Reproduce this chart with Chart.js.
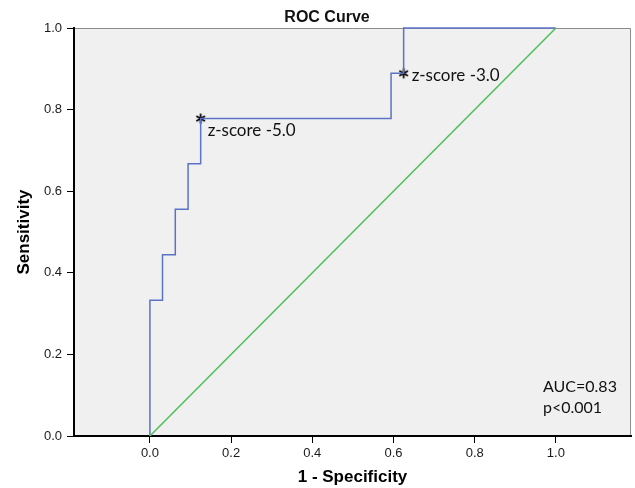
<!DOCTYPE html>
<html>
<head>
<meta charset="utf-8">
<script src="https://cdn.jsdelivr.net/npm/chart.js@4/dist/chart.umd.min.js"></script>
<style>
  html, body { margin: 0; padding: 0; background: #fff; }
</style>
</head>
<body>
<canvas id="rocChart" width="635" height="488"></canvas>
<script>
// ROC curve corners (1 - specificity, sensitivity)
const fpr = [0, 0, 0.031, 0.0625, 0.094, 0.125, 0.594, 0.625, 1.0];
const tpr = [0, 0.333, 0.444, 0.556, 0.667, 0.778, 0.889, 1.0, 1.0];
// reference line
const refX = [0, 1];
const refY = [0, 1];
// marked cut-offs
const cutX = [0.125, 0.625];
const cutY = [0.778, 0.889];
const cutLabels = ['z-score -5.0', 'z-score -3.0'];
// axes
const xTicks = [0, 0.2, 0.4, 0.6, 0.8, 1.0];
const yTicks = [0, 0.2, 0.4, 0.6, 0.8, 1.0];
const statLines = ['AUC=0.83', 'p<0.001'];
const chartTitle = 'ROC Curve';

// label offsets from the asterisk (px)
const labelOffsets = [[7, 17], [8, 8]];

function makeAsterisk() {
    const c = document.createElement('canvas');
    c.width = 13; c.height = 13;
    const g = c.getContext('2d');
    g.strokeStyle = '#000';
    g.lineWidth = 1.8;
    for (let k = 0; k < 3; k++) {
        const a = Math.PI / 2 + k * Math.PI / 3;
        g.beginPath();
        g.moveTo(6.5 - 5 * Math.cos(a), 6.5 - 5 * Math.sin(a));
        g.lineTo(6.5 + 5 * Math.cos(a), 6.5 + 5 * Math.sin(a));
        g.stroke();
    }
    return c;
}

const decor = {
    id: 'decor',
    beforeDraw(chart) {
        const { ctx, chartArea: a } = chart;
        ctx.save();
        ctx.fillStyle = '#fff';
        ctx.fillRect(0, 0, chart.width, chart.height);
        ctx.fillStyle = '#f0f0f0';
        ctx.fillRect(a.left, a.top, a.right - a.left, a.bottom - a.top);
        ctx.strokeStyle = '#8c8c8c';
        ctx.lineWidth = 1;
        ctx.beginPath();
        ctx.moveTo(a.left, a.top + 0.5);
        ctx.lineTo(a.right - 0.5, a.top + 0.5);
        ctx.lineTo(a.right - 0.5, a.bottom);
        ctx.stroke();
        ctx.restore();
    },
    afterDraw(chart) {
        const { ctx, chartArea: a } = chart;
        ctx.save();
        // title
        ctx.fillStyle = '#111';
        ctx.font = 'bold 16px "Liberation Sans", Arial, sans-serif';
        ctx.textAlign = 'center';
        ctx.textBaseline = 'alphabetic';
        ctx.fillText(chartTitle, 327, 22);
        // cut-off labels
        ctx.textAlign = 'left';
        ctx.font = '17px Lato, "Open Sans", sans-serif';
        chart.getDatasetMeta(2).data.forEach((pt, i) => {
            ctx.fillText(cutLabels[i], pt.x + labelOffsets[i][0], pt.y + labelOffsets[i][1]);
        });
        // AUC box text
        ctx.font = '16px Lato, "Open Sans", sans-serif';
        statLines.forEach((s, i) => {
            ctx.fillText(s, a.right - 88, a.bottom - 44 + i * 21);
        });
        ctx.restore();
    }
};

const tickFont = { family: '"Liberation Sans", Arial, sans-serif', size: 13 };
const axisTitleFont = { family: '"Liberation Sans", Arial, sans-serif', size: 17, weight: 'bold' };

const rocChart = new Chart(document.getElementById('rocChart').getContext('2d'), {
    type: 'scatter',
    data: {
        datasets: [{
            label: 'Reference',
            data: refX.map((x, i) => ({ x: x, y: refY[i] })),
            showLine: true,
            borderColor: '#4fbf5a',
            borderWidth: 1.5,
            pointRadius: 0
        }, {
            label: 'ROC',
            data: fpr.map((x, i) => ({ x: x, y: tpr[i] })),
            showLine: true,
            stepped: 'before',
            borderColor: '#5b73c7',
            borderWidth: 1.5,
            pointRadius: 0,
            clip: false
        }, {
            label: 'Cut-off',
            data: cutX.map((x, i) => ({ x: x, y: cutY[i] })),
            pointStyle: makeAsterisk(),
            pointRadius: 6,
            showLine: false
        }]
    },
    options: {
        responsive: false,
        animation: false,
        layout: { autoPadding: false, padding: { top: 28, right: 4, left: 0, bottom: 0 } },
        plugins: {
            legend: { display: false },
            title: { display: false },
            tooltip: { enabled: false }
        },
        scales: {
            x: {
                type: 'linear',
                min: -0.187,
                max: 1.185,
                afterBuildTicks: s => { s.ticks = xTicks.map(v => ({ value: v })); },
                afterFit: s => { s.height = 52; s.paddingLeft = 0; s.paddingRight = 0; },
                ticks: {
                    callback: v => Number(v).toFixed(1),
                    font: tickFont,
                    color: '#1a1a1a',
                    padding: 3,
                    autoSkip: false,
                    maxRotation: 0
                },
                grid: { drawOnChartArea: false, tickLength: 7, color: '#000' },
                border: { color: '#000', width: 2 },
                title: {
                    display: true,
                    text: '1 - Specificity',
                    font: axisTitleFont,
                    color: '#000',
                    padding: { top: 0, bottom: 0 }
                }
            },
            y: {
                type: 'linear',
                min: 0,
                max: 1,
                afterBuildTicks: s => { s.ticks = yTicks.map(v => ({ value: v })); },
                afterFit: s => { s.width = 74; },
                ticks: {
                    callback: v => Number(v).toFixed(1),
                    font: tickFont,
                    color: '#1a1a1a',
                    padding: 5
                },
                grid: { drawOnChartArea: false, tickLength: 7, color: '#000' },
                border: { color: '#000', width: 2 },
                title: {
                    display: true,
                    text: 'Sensitivity',
                    font: axisTitleFont,
                    color: '#000',
                    padding: { top: 14, bottom: 0 }
                }
            }
        }
    },
    plugins: [decor]
});
</script>
</body>
</html>
